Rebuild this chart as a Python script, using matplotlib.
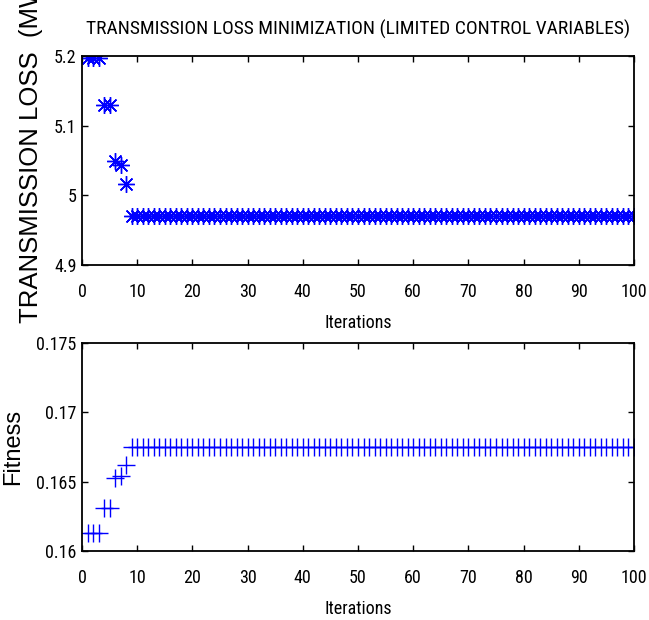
import matplotlib
matplotlib.use("Agg")
import matplotlib.pyplot as plt

# iteration index and the two series
iters = list(range(1, 101))
loss = [5.197, 5.197, 5.197, 5.13, 5.13, 5.05, 5.043, 5.016] + [4.97] * 92
fitness = [0.1613, 0.1613, 0.1613, 0.1631, 0.1631, 0.1653, 0.1654, 0.1662] + [0.1675] * 92

xticks = [0, 10, 20, 30, 40, 50, 60, 70, 80, 90, 100]
loss_ticks = [4.9, 5, 5.1, 5.2]
loss_labels = ['4.9', '5', '5.1', '5.2']
fit_ticks = [0.16, 0.165, 0.17, 0.175]
fit_labels = ['0.16', '0.165', '0.17', '0.175']

narrow = ['Roboto Condensed', 'Archivo Narrow', 'DejaVu Sans']
wide = ['Liberation Sans', 'DejaVu Sans']
plt.rcParams['font.family'] = narrow

fig = plt.figure(figsize=(6.49, 6.2), dpi=100)
ax1 = fig.add_axes([82/649, 1-265/620, 552/649, 209/620])
ax2 = fig.add_axes([82/649, 1-551/620, 552/649, 208/620])

# matlab style asterisk: plus + x
ax1.plot(iters, loss, linestyle='none', marker=(8, 2, 0), markersize=12,
         color='#0000ff', markeredgewidth=1.0)
ax2.plot(iters, fitness, linestyle='none', marker='+', markersize=13,
         color='#0000ff', markeredgewidth=1.0)

for ax in (ax1, ax2):
    ax.set_xlim(0, 100)
    ax.set_xticks(xticks)
    ax.tick_params(direction='in', length=4, width=1, top=True, right=True,
                   labelsize=13)
    ax.tick_params(axis='x', pad=13)
    ax.tick_params(axis='y', pad=4)
    for s in ax.spines.values():
        s.set_linewidth(1.3)
    ax.set_xlabel('Iterations', fontsize=13, labelpad=9.5)

ax1.set_ylim(4.9, 5.2)
ax1.set_yticks(loss_ticks)
ax1.set_yticklabels(loss_labels)
ax2.set_ylim(0.16, 0.175)
ax2.set_yticks(fit_ticks)
ax2.set_yticklabels(fit_labels)

ax1.set_title('TRANSMISSION LOSS MINIMIZATION (LIMITED CONTROL VARIABLES)',
              fontsize=14, pad=15)
# label runs off the top edge like in the original figure
ax1.set_ylabel('TRANSMISSION LOSS  (MW)', fontsize=18.5, family=wide)
ax1.yaxis.set_label_coords(-0.0707, 0.557)
ax2.set_ylabel('Fitness', fontsize=17, family=wide)
ax2.yaxis.set_label_coords(-0.105, 0.5)

fig.savefig('out.png', dpi=100)
